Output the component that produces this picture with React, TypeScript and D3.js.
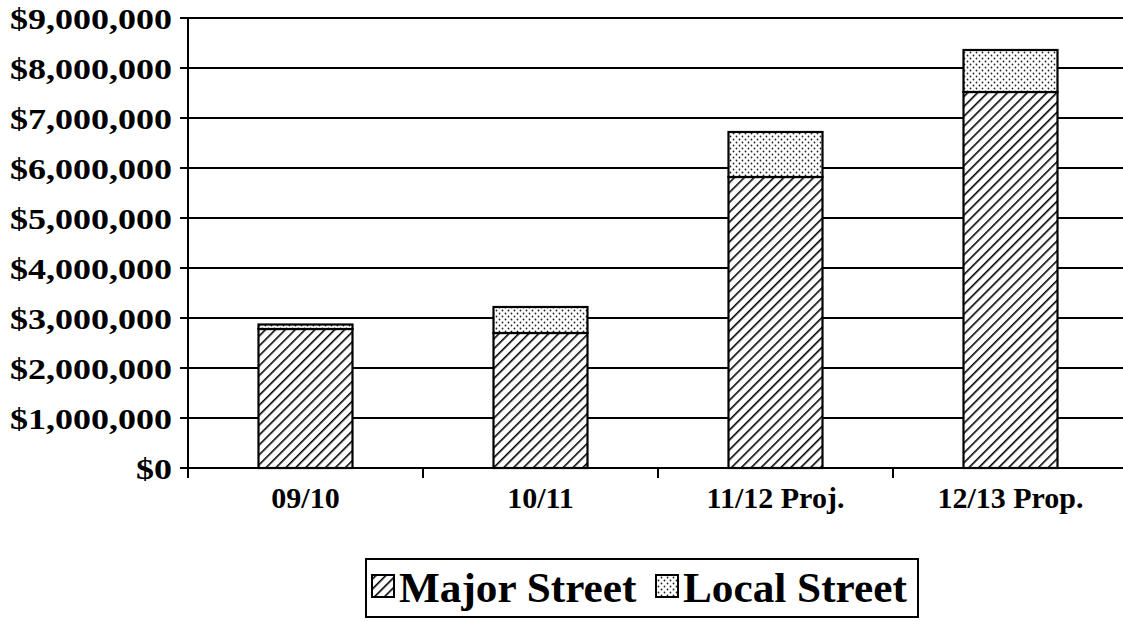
import React from "react";
import * as d3 from "d3";

const categories = ["09/10", "10/11", "11/12 Proj.", "12/13 Prop."];
const majorStreet = [2780000, 2700000, 5820000, 7520000];
const localStreet = [90000, 520000, 900000, 840000];
const yTicks = [0, 1000000, 2000000, 3000000, 4000000, 5000000, 6000000, 7000000, 8000000, 9000000];
const seriesNames = ["Major Street", "Local Street"];

const W = 1123;
const H = 621;
const FONT = "'Liberation Serif', 'Times New Roman', serif";

export default function App() {
  const x = d3.scaleBand<string>().domain(categories).range([188, 1128]).paddingInner(0.6).paddingOuter(0.3);
  const y = d3.scaleLinear().domain([0, 9000000]).range([468, 18]);
  const fmt = (v: number) => "$" + d3.format(",")(v);
  const step = x.step();
  const boundaries = d3.range(categories.length + 1).map((i) => 188 + i * step);

  return (
    <div style={{ position: "absolute", left: 0, top: 0 }}>
      <svg width={W} height={H} style={{ display: "block", background: "#fff" }}>
        <defs>
          <pattern id="hatch" patternUnits="userSpaceOnUse" width="7" height="7" patternTransform="rotate(45)">
            <rect width="7" height="7" fill="#fff" />
            <line x1="0" y1="0" x2="0" y2="7" stroke="#000" strokeWidth="3.2" />
          </pattern>
          <pattern id="dots" patternUnits="userSpaceOnUse" width="6" height="6">
            <rect width="6" height="6" fill="#fff" />
            <circle cx="1.5" cy="1.5" r="0.9" fill="#222" />
            <circle cx="4.5" cy="4.5" r="0.9" fill="#222" />
          </pattern>
        </defs>

        {/* gridlines */}
        {yTicks.map((t) => (
          <line key={"g" + t} x1={180} x2={W} y1={y(t)} y2={y(t)} stroke="#000" strokeWidth={2} />
        ))}
        {/* y axis */}
        <line x1={188} x2={188} y1={y(9000000) - 1} y2={478} stroke="#000" strokeWidth={2} />
        {/* x ticks */}
        {boundaries.map((b, i) => (
          <line key={"xt" + i} x1={b} x2={b} y1={468} y2={478} stroke="#000" strokeWidth={2} />
        ))}
        {/* y labels */}
        {yTicks.map((t) => (
          <text key={"yl" + t} transform={`translate(172,${y(t)}) scale(1.2,1)`} dy="0.35em" textAnchor="end" fontFamily={FONT} fontWeight="bold" fontSize={30}>
            {fmt(t)}
          </text>
        ))}

        {/* bars */}
        {categories.map((c, i) => {
          const bx = x(c)!;
          const bw = x.bandwidth();
          const m = majorStreet[i];
          const l = localStreet[i];
          return (
            <g key={c}>
              <rect x={bx} y={y(m)} width={bw} height={y(0) - y(m)} fill="url(#hatch)" stroke="#000" strokeWidth={2.2} />
              <rect x={bx} y={y(m + l)} width={bw} height={y(m) - y(m + l)} fill="url(#dots)" stroke="#000" strokeWidth={2.2} />
            </g>
          );
        })}

        {/* x labels */}
        {categories.map((c) => (
          <text key={"xl" + c} transform={`translate(${x(c)! + x.bandwidth() / 2},497) scale(1.0,1)`} dy="0.35em" textAnchor="middle" fontFamily={FONT} fontWeight="bold" fontSize={30}>
            {c}
          </text>
        ))}

        {/* legend */}
        <rect x={366} y={559} width={552} height={58} fill="#fff" stroke="#000" strokeWidth={2} />
        <rect x={372} y={575} width={22} height={22} fill="url(#hatch)" stroke="#000" strokeWidth={2} />
        <text transform="translate(399,587) scale(1.03,1)" dy="0.35em" fontFamily={FONT} fontWeight="bold" fontSize={42}>
          {seriesNames[0]}
        </text>
        <rect x={656} y={575} width={22} height={22} fill="url(#dots)" stroke="#000" strokeWidth={2} />
        <text transform="translate(683,587) scale(1.03,1)" dy="0.35em" fontFamily={FONT} fontWeight="bold" fontSize={42}>
          {seriesNames[1]}
        </text>
      </svg>
    </div>
  );
}
